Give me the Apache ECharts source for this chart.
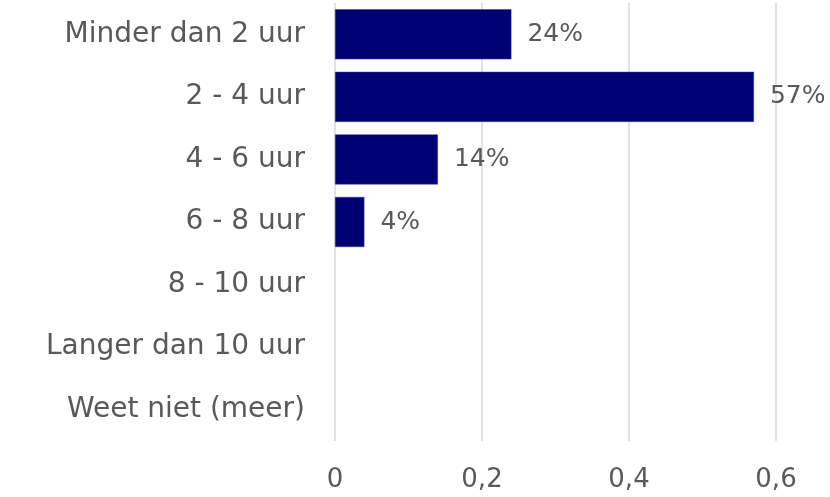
<!DOCTYPE html>
<html>
<head>
<meta charset="utf-8">
<script src="https://cdn.jsdelivr.net/npm/echarts@6/dist/echarts.min.js"></script>
<style>
  html, body { margin: 0; padding: 0; background: #fff; }
  #chart { width: 830px; height: 497px; }
</style>
</head>
<body>
<div id="chart"></div>
<script>
const categories = [
  "Minder dan 2 uur",
  "2 - 4 uur",
  "4 - 6 uur",
  "6 - 8 uur",
  "8 - 10 uur",
  "Langer dan 10 uur",
  "Weet niet (meer)",
];
const shares = [0.24, 0.57, 0.14, 0.04, null, null, null];
const xTicks = [0, 0.2, 0.4, 0.6];

const textColor = "#595959";
const fontFamily = "DejaVu Sans";

const chart = echarts.init(document.getElementById("chart"));

chart.setOption({
  animation: false,
  grid: {
    left: 335,
    right: 54,
    top: 3,
    bottom: 56,
    containLabel: false,
  },
  xAxis: {
    type: "value",
    min: 0,
    max: 0.6,
    interval: 0.2,
    axisLine: { show: false },
    axisTick: { show: false },
    axisLabel: {
      color: textColor,
      fontFamily,
      fontSize: 26,
      margin: 26,
      formatter: (v) => {
        const hit = xTicks.find((t) => Math.abs(t - v) < 1e-9);
        return hit === undefined ? "" : String(hit).replace(".", ",");
      },
    },
    splitLine: {
      show: true,
      lineStyle: { color: "#d9d9d9", width: 1.5 },
    },
  },
  yAxis: {
    type: "category",
    inverse: true,
    data: categories,
    axisLine: { show: false },
    axisTick: { show: false },
    axisLabel: {
      color: textColor,
      fontFamily,
      fontSize: 28,
      margin: 30,
      padding: [4, 0, 0, 0],
    },
  },
  series: [
    {
      type: "bar",
      data: shares,
      barCategoryGap: "20%",
      itemStyle: {
        color: "#000073",
        borderColor: "#3a3a9a",
        borderWidth: 0.5,
      },
      label: {
        show: true,
        position: "right",
        distance: 16,
        color: textColor,
        fontFamily,
        fontSize: 25,
        formatter: (p) => (p.value == null ? "" : Math.round(p.value * 100) + "%"),
      },
    },
  ],
});
</script>
</body>
</html>
